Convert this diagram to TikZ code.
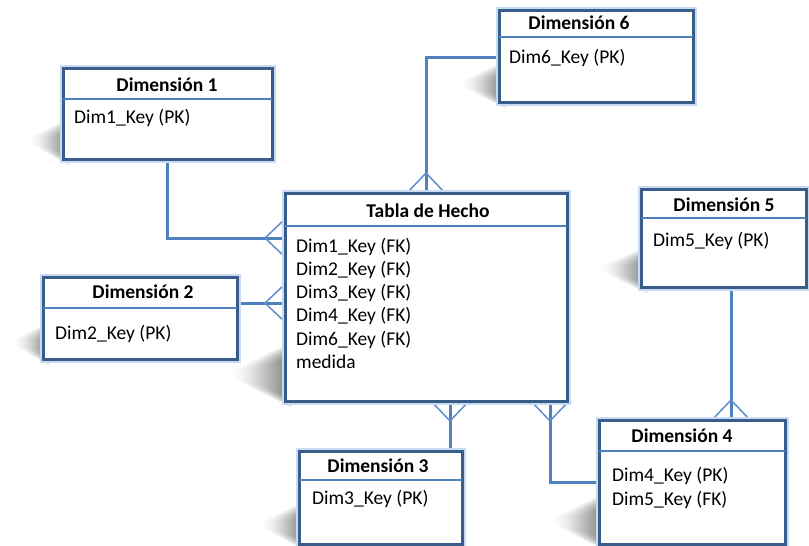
\documentclass[tikz,border=0pt]{standalone}
\usepackage{fontspec}
\setmainfont{Carlito}
\usetikzlibrary{calc,backgrounds}

\definecolor{boxline}{HTML}{385D8A}
\definecolor{boxglow}{HTML}{C9DBF1}
\definecolor{linkc}{HTML}{4F81BD}
\definecolor{crowc}{HTML}{5F8FC9}

\tikzset{
  x=1pt, y=-1pt,
  entity/.style={rectangle, draw=boxline, line width=3pt, fill=white,
    anchor=north west, inner sep=0pt, outer sep=0pt,
    preaction={draw=boxglow, line width=7pt}},
  sepline/.style={draw=linkc, line width=1.2pt},
  link/.style={draw=linkc, line width=3pt},
  title/.style={anchor=base, inner sep=0pt, font=\fontsize{19.5}{23.4}\selectfont\bfseries},
  field/.style={anchor=base west, inner sep=0pt, font=\fontsize{19.5}{23.4}\selectfont},
  crowfoot/.pic={\draw[crowc, line width=1.5pt] (0,-19) -- (-20,0) -- (0,19);}
}

% soft cast shadow to the lower left of a box: node, reach, rise
% (stacked translucent wedges, each a little smaller, give a blurred edge)
\newcommand\castshadow[3]{%
  \foreach \k in {0,...,5}{%
    \shade[left color=white, right color=black!75, opacity=0.17]
      ($(#1.south west)+(6,-#3+2.5*\k)$)
      -- ($(#1.south west)+(-#2+3*\k,-0.5*#3+0.6*\k)$)
      -- ($(#1.south west)+(-#2+4+3*\k,-0.38*#3)$)
      -- ($(#1.south west)+(6,6-1.6*\k)$) -- cycle;}}

\begin{document}
\begin{tikzpicture}
\useasboundingbox (0,0) rectangle (809,546);

% boxes
\node[entity, minimum width=209pt, minimum height=91pt]  (d1)   at (63,68)   {};
\node[entity, minimum width=282pt, minimum height=208pt] (fact) at (285,193) {};
\node[entity, minimum width=194pt, minimum height=92pt]  (d6)   at (499,10)  {};
\node[entity, minimum width=165pt, minimum height=98pt]  (d5)   at (641,189) {};
\node[entity, minimum width=194pt, minimum height=82pt]  (d2)   at (43,277)  {};
\node[entity, minimum width=163pt, minimum height=93pt]  (d3)   at (299,451) {};
\node[entity, minimum width=186pt, minimum height=124pt] (d4)   at (599,420) {};

% header rules
\draw[sepline] (d1.west |- 0,99)   -- (d1.east |- 0,99);
\draw[sepline] (fact.west |- 0,226) -- (fact.east |- 0,226);
\draw[sepline] (d6.west |- 0,37)   -- (d6.east |- 0,37);
\draw[sepline] (d5.west |- 0,218)  -- (d5.east |- 0,218);
\draw[sepline] (d2.west |- 0,308)  -- (d2.east |- 0,308);
\draw[sepline] (d3.west |- 0,480)  -- (d3.east |- 0,480);
\draw[sepline] (d4.west |- 0,451)  -- (d4.east |- 0,451);

% titles
\node[title] (d1t)   at (167,91)  {Dimensión 1};
\node[title] (factt) at (428,217) {Tabla de Hecho};
\node[title] (d6t)   at (579,29)  {Dimensión 6};
\node[title] (d5t)   at (724,211) {Dimensión 5};
\node[title] (d2t)   at (143,298) {Dimensión 2};
\node[title] (d3t)   at (378,472) {Dimensión 3};
\node[title] (d4t)   at (682,442) {Dimensión 4};

% attributes
\node[field] (d1k) at (74,123)  {Dim1\_Key (PK)};
\node[field] (d6k) at (509,63)  {Dim6\_Key (PK)};
\node[field] (d5k) at (653,246) {Dim5\_Key (PK)};
\node[field] (d2k) at (55,339)  {Dim2\_Key (PK)};
\node[field] (d3k) at (312,504) {Dim3\_Key (PK)};
\node[field] (d4k) at (612,481) {Dim4\_Key (PK)};
\node[field] (d4f) at (612,505) {Dim5\_Key (FK)};
\node[field] (f1) at (296,252) {Dim1\_Key (FK)};
\node[field] (f2) at (296,275.3) {Dim2\_Key (FK)};
\node[field] (f3) at (296,298.6) {Dim3\_Key (FK)};
\node[field] (f4) at (296,321.9) {Dim4\_Key (FK)};
\node[field] (f5) at (296,345.2) {Dim6\_Key (FK)};
\node[field] (f6) at (296,368.5) {medida};

\begin{scope}[on background layer]
  % shadows
  \castshadow{d1}{36}{40}
  \castshadow{fact}{55}{58}
  \castshadow{d6}{40}{40}
  \castshadow{d5}{42}{40}
  \castshadow{d2}{32}{36}
  \castshadow{d3}{40}{42}
  \castshadow{d4}{48}{50}

  % relationships
  \draw[link] (d1.south) |- (fact.west |- 0,238);
  \draw[link] (d2.east |- 0,303) -- (fact.west |- 0,303);
  \draw[link] (d6.west |- 0,57) -| (fact.north -| 426,0);
  \draw[link] (fact.south -| 450,0) -- (d3.north -| 450,0);
  \draw[link] (fact.south -| 550,0) |- (d4.west |- 0,482);
  \draw[link] (d5.south -| 731,0) -- (d4.north -| 731,0);

  % many-side crow's feet
  \pic at (fact.west |- 0,238) {crowfoot};
  \pic at (fact.west |- 0,303) {crowfoot};
  \pic[rotate=-90] at (fact.north -| 426,0) {crowfoot};
  \pic[rotate=90] at (fact.south -| 450,0) {crowfoot};
  \pic[rotate=90] at (fact.south -| 550,0) {crowfoot};
  \pic[rotate=-90] at (d4.north -| 731,0) {crowfoot};
\end{scope}
\end{tikzpicture}
\end{document}
